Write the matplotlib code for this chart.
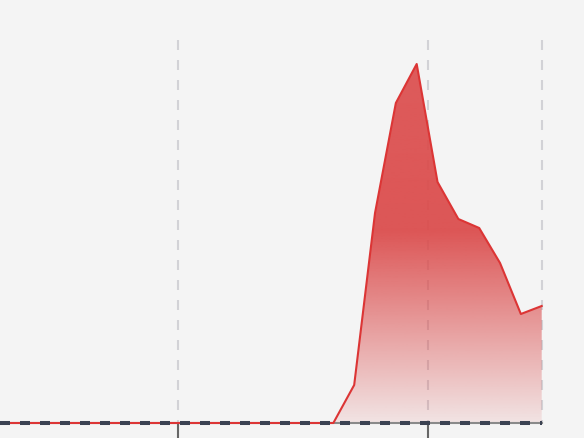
import numpy as np
import matplotlib
matplotlib.use("Agg")
import matplotlib.pyplot as plt
from matplotlib.colors import to_rgb

# series values (one point per period)
periods = list(range(27))
values = [0, 0, 0, 0, 0, 0, 0, 0, 0, 0, 0, 0, 0, 0, 0, 0, 0,
          38, 210, 320, 359, 241, 204, 195, 160, 109, 117]
grid_x = [8.55, 20.55]
y_top = 383

plt.rcParams['lines.scale_dashes'] = False

bg = '#f4f4f4'
red = '#dc3535'

fig = plt.figure(figsize=(5.84, 4.38), dpi=100, facecolor=bg)
ax = fig.add_axes([0, 15/438, 541.7/584, 383/438])
ax.set_facecolor(bg)
ax.set_xlim(0, 26)
ax.set_ylim(0, y_top)

# dashed vertical grid, drawn from the top down so dashes start at the top
for gx in grid_x + [26]:
    ax.plot([gx, gx], [y_top, 0], color='#d2d2d6', lw=1.5,
            ls=(0, (7.2, 7.2)), zorder=1, clip_on=False)

# gradient fill under the curve
poly = ax.fill_between(periods, values, 0, color='none', lw=0)
rgb = to_rgb('#db4a4a')
h = 256
frac = np.linspace(0, 1, h)[:, None]  # 0 top -> 1 bottom
alpha = np.where(frac < 0.5, 0.9 + 0.03 * frac / 0.5,
                 0.93 - 0.83 * (frac - 0.5) / 0.5)
img = np.zeros((h, 1, 4))
img[..., 0], img[..., 1], img[..., 2] = rgb
img[..., 3] = alpha
im = ax.imshow(img, extent=[0, 26, 0, y_top], aspect='auto', zorder=2,
               origin='upper')
im.set_clip_path(poly.get_paths()[0], transform=ax.transData)

ax.plot(periods, values, color=red, lw=1.5, zorder=3, clip_on=False)

# dark dashed baseline on top
ax.plot([0, 26], [0, 0], color='#3b4252', lw=2.9, ls=(0, (7.2, 7.2)),
        zorder=4, clip_on=False, solid_capstyle='butt')

for s in ['top', 'left', 'right']:
    ax.spines[s].set_visible(False)
ax.spines['bottom'].set_color('#8a8a8a')
ax.spines['bottom'].set_linewidth(1.5)
ax.spines['bottom'].set_zorder(2.5)

ax.set_xticks(grid_x)
ax.set_yticks([])
ax.tick_params(axis='x', length=11, width=1.5, color='#666666',
               labelbottom=False)

fig.savefig('out.png', dpi=100, facecolor=bg)
